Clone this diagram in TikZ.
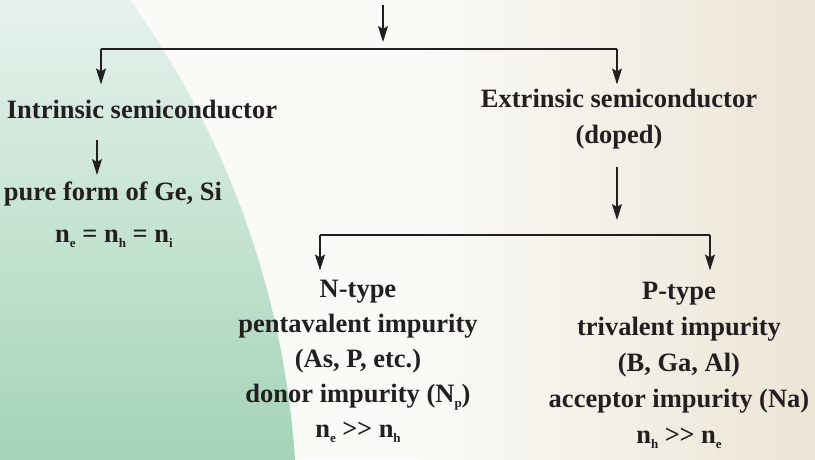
\documentclass[tikz,border=0pt]{standalone}
\usepackage{fontspec}
\setmainfont{Liberation Serif}
\usetikzlibrary{arrows.meta, calc}
\definecolor{mintlt}{HTML}{E6F2EC}
\definecolor{mintdk}{HTML}{A3D4B7}
\definecolor{paper}{HTML}{FAFAF7}
\definecolor{sand}{HTML}{ECE5D6}
\definecolor{ink}{HTML}{231F20}
\newcommand{\lsub}[1]{\raisebox{-5pt}{\fontsize{13}{13}\selectfont #1}}
\newcommand{\gtgt}{>\kern-0.5pt>}
\tikzset{
    lbl/.style={font=\fontsize{26.5}{36}\selectfont\bfseries, text=ink, align=center, inner sep=0pt, anchor=base},
    lbl5/.style={lbl, font=\fontsize{26.5}{35}\selectfont\bfseries},
    lnk/.style={line width=1.2pt, color=ink},
    arr/.style={-{Stealth[length=16pt, width=10pt, inset=3pt]}, line width=1.2pt, color=ink}
}
\begin{document}
\begin{tikzpicture}[x=1pt, y=-1pt]
        \useasboundingbox (0,0) rectangle (815,459);
        % background
        \fill[paper] (0,0) rectangle (815,459);
        \shade[left color=paper, right color=sand] (420,0) rectangle (815,459);
        \begin{scope}
          \clip (-596,520) circle (893);
          \shade[top color=mintlt, bottom color=mintdk] (0,0) rectangle (815,459);
        \end{scope}
        % labels (base = last line)
        \node[lbl] (intr) at (142,118) {Intrinsic semiconductor};
        \node[lbl] (pure) at (113,200) {pure form of Ge, Si};
        \node[lbl] (eq)   at (114,242) {n\lsub{e} = n\lsub{h} = n\lsub{i}};
        \node[lbl] (extr) at (619,143) {Extrinsic semiconductor\\(doped)};
        \node[lbl5] (ntype) at (358,437) {N-type\\pentavalent impurity\\(As, P, etc.)\\
          donor impurity (N\lsub{p})\\n\lsub{e} \gtgt{} n\lsub{h}};
        \node[lbl] (ptype) at (679,443) {P-type\\trivalent impurity\\(B, Ga, Al)\\
          acceptor impurity (Na)\\n\lsub{h} \gtgt{} n\lsub{e}};
        % branch points
        \coordinate (top)    at (383,5);
        \coordinate (split)  at (383,49);
        \coordinate (lft)    at (101,49);
        \coordinate (rgt)    at (617,49);
        \coordinate (ia)     at (97,140);
        \coordinate (ib)     at (97,175);
        \coordinate (nsplit) at (617,235);
        \coordinate (nl)     at (320,235);
        \coordinate (nr)     at (710,235);
        % connectors
        \draw[arr, shorten >=7pt] (top) -- (split);
        \draw[lnk] (lft) -- (rgt);
        \draw[arr, shorten >=15pt] (lft) -- (lft |- intr.north);
        \draw[arr, shorten >=4pt]  (rgt) -- (rgt |- extr.north);
        \draw[arr] (ia) -- (ib);
        \draw[arr, shorten <=18pt, shorten >=15pt] (extr.south -| rgt) -- (nsplit);
        \draw[lnk] (nl) -- (nr);
        \draw[arr, shorten >=9pt]  (nl) -- (nl |- ntype.north);
        \draw[arr, shorten >=11pt] (nr) -- (nr |- ptype.north);
        \end{tikzpicture}
\end{document}
